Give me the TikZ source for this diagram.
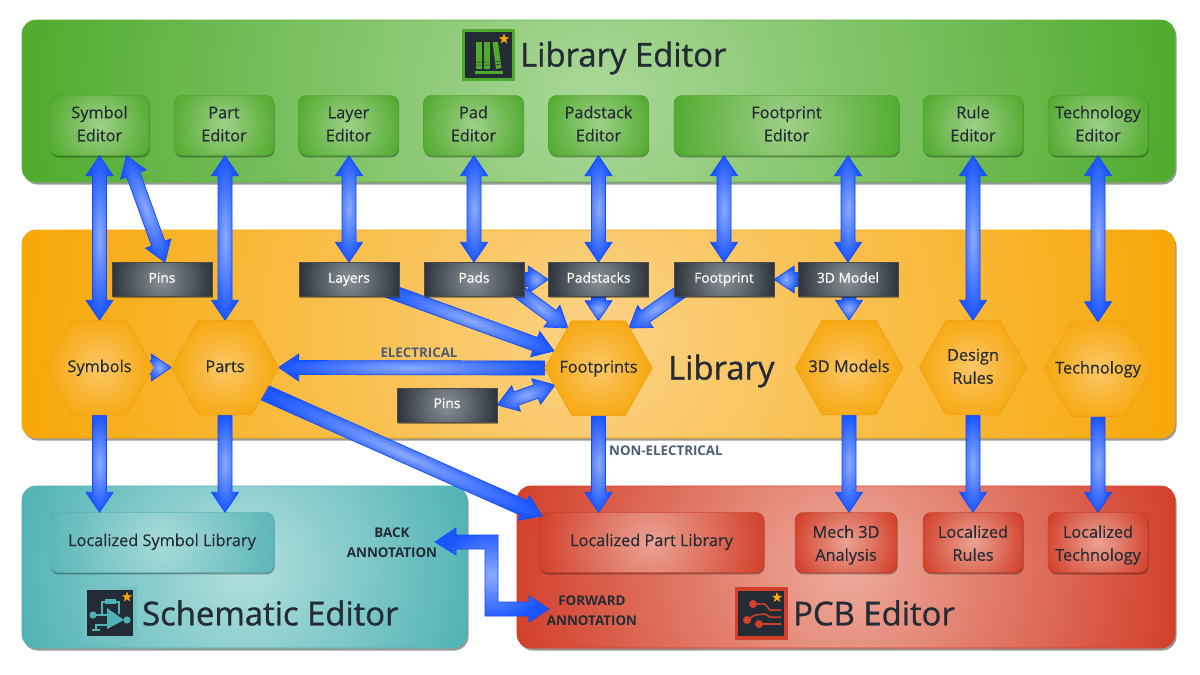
\documentclass[tikz,border=0pt]{standalone}
\usepackage{fontspec}
\setmainfont{Open Sans}
\newfontfamily\headfont[FakeBold=1.0]{Open Sans}
\newfontfamily\labfont[FakeBold=0.3]{Open Sans}
\usetikzlibrary{calc,shadows,shapes.geometric}
\definecolor{ink}{HTML}{232B35}
\definecolor{muted}{HTML}{4A5D75}
\definecolor{arrowline}{HTML}{0F4BFF}
\definecolor{rin}{HTML}{FFFFFF}
\definecolor{rout}{HTML}{000000}
\pgfdeclareradialshading[rin,rout]{glow}{\pgfpoint{0bp}{0bp}}{color(0bp)=(rin); color(25bp)=(rout); color(50bp)=(rout)}
\pgfdeclarelayer{panel}
\pgfdeclarelayer{arrows}
\pgfsetlayers{panel,arrows,main}
\makeatletter
\pgfdeclareshape{hexa}{%
  \inheritsavedanchors[from=rectangle]
  \inheritanchorborder[from=rectangle]
  \inheritanchor[from=rectangle]{center}
  \inheritanchor[from=rectangle]{north}
  \inheritanchor[from=rectangle]{south}
  \inheritanchor[from=rectangle]{east}
  \inheritanchor[from=rectangle]{west}
  \backgroundpath{%
    \southwest \pgf@xa=\pgf@x \pgf@ya=\pgf@y
    \northeast \pgf@xb=\pgf@x \pgf@yb=\pgf@y
    \pgf@xc=\pgf@xb \advance\pgf@xc by -\pgf@xa \pgf@xc=0.25\pgf@xc
    \pgfutil@tempdima=0.5\pgf@ya \advance\pgfutil@tempdima by 0.5\pgf@yb
    \pgfpathmoveto{\pgfqpoint{\pgf@xa}{\pgfutil@tempdima}}
    \pgfpathlineto{\pgfpoint{\pgf@xa+\pgf@xc}{\pgf@yb}}
    \pgfpathlineto{\pgfpoint{\pgf@xb-\pgf@xc}{\pgf@yb}}
    \pgfpathlineto{\pgfqpoint{\pgf@xb}{\pgfutil@tempdima}}
    \pgfpathlineto{\pgfpoint{\pgf@xb-\pgf@xc}{\pgf@ya}}
    \pgfpathlineto{\pgfpoint{\pgf@xa+\pgf@xc}{\pgf@ya}}
    \pgfpathclose
  }
}
\makeatother
\def\shaftw{7}
\def\headw{13.5}
\def\headl{20}
\def\firstrule{\strut}
\newcommand{\blockends}[2]{%
  \path let \p1=(#1),\p2=(#2) in \pgfextra{%
    \pgfmathsetmacro\tmpl{veclen(\x2-\x1,\y2-\y1)}%
    \pgfmathsetmacro\tmpa{atan2(\y2-\y1,\x2-\x1)}%
    \xdef\bal{\tmpl}\xdef\baa{\tmpa}\xdef\bax{\x1}\xdef\bay{\y1}};%
  \pgfmathsetmacro\bam{\bal-\headl}%
}
\newcommand{\dblblock}[2]{%
  \blockends{#1}{#2}%
  \colorlet{rin}{arrowin}\colorlet{rout}{arrowout}%
  \path[blockpaint,transform canvas={shift={(\bax,\bay)},rotate=\baa}]
    (0,0) -- (\headl,\headw) -- (\headl,\shaftw) -- (\bam,\shaftw) -- (\bam,\headw) -- (\bal,0)
    -- (\bam,-\headw) -- (\bam,-\shaftw) -- (\headl,-\shaftw) -- (\headl,-\headw) -- cycle;%
}
\newcommand{\sglblock}[2]{%
  \blockends{#1}{#2}%
  \colorlet{rin}{arrowin}\colorlet{rout}{arrowout}%
  \path[blockpaint,transform canvas={shift={(\bax,\bay)},rotate=\baa}]
    (0,\shaftw) -- (\bam,\shaftw) -- (\bam,\headw) -- (\bal,0)
    -- (\bam,-\headw) -- (\bam,-\shaftw) -- (0,-\shaftw) -- cycle;%
}
\definecolor{arrowin}{HTML}{8CABFF}
\definecolor{arrowout}{HTML}{1A55FF}
\tikzset{
  x=1pt,y=-1pt,
  blockpaint/.style={draw=arrowline,line width=.7pt,shade,shading=glow},
  dbl/.style={to path={\pgfextra{\dblblock{\tikztostart}{\tikztotarget}}}},
  sgl/.style={to path={\pgfextra{\sglblock{\tikztostart}{\tikztotarget}}}},
  widearrow/.code={\def\shaftw{8}},
  textlow/.code={\def\firstrule{\rule{0pt}{#1pt}}},
  textsingle/.code={\def\firstrule{\rule[-10.8pt]{0pt}{28.8pt}}},
  glowbox/.style n args={3}{fill=#2,path picture={%
     \colorlet{rin}{#1}\colorlet{rout}{#2}%
     \shade[shading=glow] (path picture bounding box.center) circle (#3pt);}},
  panelbox/.style={rectangle,rounded corners=14pt,inner sep=0pt,
     drop shadow={shadow xshift=1.5pt,shadow yshift=-2.5pt,opacity=.4,fill=black}},
  subbox/.style={rectangle,rounded corners=8pt,inner sep=0pt,align=center,text=ink,
     font=\labfont\fontsize{16.3}{23}\selectfont,
     drop shadow={shadow xshift=.6pt,shadow yshift=-1.8pt,opacity=.35,fill=black}},
  greenbox/.style={subbox,textlow=15.4,minimum height=60pt,draw=grnedge,line width=.4pt,glowbox={grnboxin}{grnboxout}{55}},
  tealbox/.style={subbox,textsingle,minimum height=60pt,draw=tealedge,line width=.4pt,glowbox={tealboxin}{tealboxout}{120}},
  redbox/.style={subbox,textlow=20.4,minimum height=60pt,draw=rededge,line width=.4pt,glowbox={redboxin}{redboxout}{#1}},
  redbox/.default=60,
  darkbox/.style={rectangle,minimum width=100pt,minimum height=34pt,inner sep=0pt,text=white,
     font=\labfont\fontsize{13.8}{16}\selectfont,execute at begin node=\strut,draw=black!70,line width=.4pt,glowbox={darkin}{darkout}{58},
     drop shadow={shadow xshift=.8pt,shadow yshift=-1.5pt,opacity=.35,fill=black}},
  hexbox/.style={hexa,minimum width=107pt,minimum height=94pt,inner sep=0pt,align=center,text=ink,
     font=\labfont\fontsize{16.3}{23}\selectfont,draw=hexedge,line width=.5pt,glowbox={hexin}{hexout}{56}},
  bigtitle/.style={text=ink,inner sep=0pt,font=\headfont\fontsize{32.8}{36}\selectfont},
  taglabel/.style={text=ink,inner sep=0pt,align=center,font=\bfseries\fontsize{13.4}{20}\selectfont},
  mutedlabel/.style={text=muted,inner sep=0pt,font=\bfseries\fontsize{13.3}{15}\selectfont},
  iconstar/.style={star,star points=5,star point ratio=2.5,fill=staror,inner sep=0pt,minimum size=11pt},
}
\definecolor{grnin}{HTML}{AAD898}\definecolor{grnout}{HTML}{4EAA2C}
\definecolor{ornin}{HTML}{FBD285}\definecolor{ornout}{HTML}{F7A707}
\definecolor{tealin}{HTML}{B2DFDE}\definecolor{tealout}{HTML}{50B2B4}
\definecolor{redin}{HTML}{EDAA9C}\definecolor{redout}{HTML}{D23F2A}
\definecolor{grnboxin}{HTML}{9FD089}\definecolor{grnboxout}{HTML}{52AB2F}
\definecolor{tealboxin}{HTML}{A8DBDA}\definecolor{tealboxout}{HTML}{58B4B6}
\definecolor{redboxin}{HTML}{EBA294}\definecolor{redboxout}{HTML}{D2412B}
\definecolor{grnedge}{HTML}{4A9E2A}\definecolor{tealedge}{HTML}{4FA9AB}\definecolor{rededge}{HTML}{C23A26}
\definecolor{darkin}{HTML}{8A9096}\definecolor{darkout}{HTML}{20272F}
\definecolor{hexin}{HTML}{FBC768}\definecolor{hexout}{HTML}{F6A60A}\definecolor{hexedge}{HTML}{EDA00C}
\definecolor{staror}{HTML}{F7A707}
\begin{document}
\begin{tikzpicture}
\useasboundingbox (0,0) rectangle (1200,675);
\begin{pgfonlayer}{panel}
\fill[white] (0,0) rectangle (1200,675);
\node[panelbox,minimum width=1153pt,minimum height=162pt,draw=grnout!90!white,line width=.6pt,glowbox={grnin}{grnout}{590}] (pgreen) at (598.5,101) {};
\node[panelbox,minimum width=1153pt,minimum height=208pt,draw=ornout,line width=.6pt,glowbox={ornin}{ornout}{590}] (porange) at (598.5,334) {};
\node[panelbox,minimum width=445pt,minimum height=162pt,draw=tealout,line width=.6pt,glowbox={tealin}{tealout}{235}] (pteal) at (244.5,567) {};
\node[panelbox,minimum width=658pt,minimum height=162pt,draw=redout,line width=.6pt,glowbox={redin}{redout}{340}] (pred) at (846,567) {};
% editors
\node[greenbox,minimum width=99pt] (edsym) at (99.5,125.5) {\firstrule Symbol\\\strut Editor};
\node[greenbox,minimum width=100pt] (edpart) at (224,125.5) {\firstrule Part\\\strut Editor};
\node[greenbox,minimum width=100pt] (edlayer) at (348.5,125.5) {\firstrule Layer\\\strut Editor};
\node[greenbox,minimum width=100pt] (edpad) at (473.5,125.5) {\firstrule Pad\\\strut Editor};
\node[greenbox,minimum width=100pt] (edstack) at (598.5,125.5) {\firstrule Padstack\\\strut Editor};
\node[subbox,textlow=15.4,minimum height=60pt,minimum width=225pt,draw=grnedge,line width=.4pt,glowbox={grnboxin}{grnboxout}{115}] (edfoot) at (786.5,125.5) {\firstrule Footprint\\\strut Editor};
\node[greenbox,minimum width=100pt] (edrule) at (973,125.5) {\firstrule Rule\\\strut Editor};
\node[greenbox,minimum width=100pt] (edtech) at (1098,125.5) {\firstrule Technology\\\strut Editor};
% localized
\node[tealbox,minimum width=224pt] (locsym) at (162,542.5) {\firstrule Localized Symbol Library};
\node[redbox=115,textsingle,minimum width=225pt] (locpart) at (651.5,542.5) {\firstrule Localized Part Library};
\node[redbox=55,minimum width=102pt] (locmech) at (846,542.5) {\firstrule Mech 3D\\\strut Analysis};
\node[redbox=55,minimum width=100pt] (locrule) at (973,542.5) {\firstrule Localized\\\strut Rules};
\node[redbox=55,minimum width=100pt] (loctech) at (1098,542.5) {\firstrule Localized\\\strut Technology};
\end{pgfonlayer}
% data blocks
\node[darkbox] (bpins) at (162,279.5) {Pins};
\node[darkbox] (blayers) at (349,279.5) {Layers};
\node[darkbox] (bpads) at (474,279.5) {Pads};
\node[darkbox] (bstacks) at (598.5,279.5) {Padstacks};
\node[darkbox] (bfoot) at (724,279.5) {Footprint};
\node[darkbox] (bmodel) at (848,279.5) {3D Model};
\node[darkbox] (bfpins) at (447,405) {Pins};
% hexagons
\node[hexbox] (hsym) at (99.5,367.5) {\firstrule Symbols};
\node[hexbox] (hpart) at (225,367.5) {\firstrule Parts};
\node[hexbox] (hfoot) at (598.5,368) {\firstrule Footprints};
\node[hexbox] (hmodel) at (849,367.5) {\firstrule 3D Models};
\node[hexbox,textlow=16.4] (hrule) at (973,367.5) {\firstrule Design\\\strut Rules};
\node[hexbox] (htech) at (1098,369) {\firstrule Technology};
% connectors
\begin{pgfonlayer}{arrows}
\draw[dbl] (edsym.south -| hsym.north) to (hsym.north);
\draw[dbl] ([shift={(27,0)}]edsym.south) to ([shift={(3,0)}]bpins.north);
\draw[dbl] (edpart.south -| hpart.north) to (hpart.north);
\draw[dbl] (edlayer.south -| blayers.north) to (blayers.north);
\draw[dbl] (edpad.south -| bpads.north) to (bpads.north);
\draw[dbl] (edstack.south) to (bstacks.north);
\draw[dbl] (edfoot.south -| bfoot.north) to (bfoot.north);
\draw[dbl] (edfoot.south -| bmodel.north) to (bmodel.north);
\draw[dbl] (edrule.south) to (hrule.north);
\draw[dbl] (edtech.south) to (htech.north);
\draw[sgl] (bpads.east) to (bstacks.west);
\draw[sgl] (bmodel.west) to (bfoot.east);
\draw[sgl] (bmodel.south -| hmodel.north) to (hmodel.north);
\draw[sgl] (bstacks.south) to (hfoot.north);
\draw[sgl] ([shift={(36,10)}]blayers.center) to ([shift={(-44.5,-17)}]hfoot.center);
\draw[sgl] ([shift={(39,8)}]bpads.center) to ([shift={(-30.5,-40)}]hfoot.center);
\draw[sgl] ([shift={(-40,10)}]bfoot.center) to ([shift={(30.5,-40)}]hfoot.center);
\draw[sgl] (hfoot.west) to (hpart.east);
\draw[dbl] (bfpins.east) to ([shift={(-43.5,17)}]hfoot.center);
\draw[sgl] ([shift={(48,0)}]hsym.center) to (hpart.west);
\draw[sgl,widearrow] ([shift={(37,24)}]hpart.center) to ([shift={(-109.5,-26.5)}]locpart.center);
\draw[sgl] (hsym.south) to (hsym.south |- locsym.north);
\draw[sgl] (hpart.south) to (hpart.south |- locsym.north);
\draw[sgl] (hfoot.south) to (hfoot.south |- locpart.north);
\draw[sgl] (hmodel.south) to (hmodel.south |- locmech.north);
\draw[sgl] (hrule.south) to (locrule.north);
\draw[sgl] (htech.south) to (loctech.north);
\coordinate (backtip) at (435,542);
\coordinate (fwdtip) at (549,609);
\colorlet{rin}{arrowin}\colorlet{rout}{arrowout}
\path[blockpaint] (backtip) -- ++(21,-14) -- ++(0,7) -- ++(42,0) -- ++(0,67) -- ++(31,0) -- ++(0,-6)
  -- (fwdtip) -- ++(-20,13) -- ++(0,-6) -- ++(-44,0) -- ++(0,-67) -- ++(-29,0) -- ++(0,6) -- cycle;
\end{pgfonlayer}
% labels
\node[bigtitle,anchor=west] (tlib) at (520,58) {Library Editor};
\node[bigtitle,anchor=west] (tcore) at (668,371) {Library};
\node[bigtitle,anchor=west] (tsch) at (142,613) {Schematic Editor};
\node[bigtitle,anchor=west] (tpcb) at (793,613) {PCB Editor};
\node[mutedlabel] (lelec) at (419,353) {ELECTRICAL};
\node[mutedlabel,anchor=west] (lnon) at (609,451) {NON-ELECTRICAL};
\node[taglabel] (lback) at (392,543) {BACK\\ANNOTATION};
\node[taglabel] (lfwd) at (592,611) {FORWARD\\ANNOTATION};
% library icon
\fill[grnout] (462,29) rectangle (515,81);
\fill[ink] (465,32) rectangle (512,78);
\fill[grnboxout] (476,42) rectangle (481.5,69);
\fill[grnboxout] (484,42) rectangle (489.5,69);
\fill[grnboxout] (492.5,42) -- (498,42) -- (501.5,68) -- (496,69) -- cycle;
\fill[grnboxout] (475,71) rectangle (503,73.5);
\draw[ink,line width=.5pt] (476,62) -- (481.5,62) (476,65) -- (481.5,65) (484,62) -- (489.5,62) (484,65) -- (489.5,65) (495,62) -- (500.5,61) (495.5,65) -- (501,64);
\node[iconstar] (starlib) at (504,39) {};
% schematic icon
\fill[tealout!80!white] (84,587) rectangle (137,639);
\fill[ink] (87,590) rectangle (133,636);
\fill[tealout] (93,615) circle (3.6);
\fill[tealout] (127,620) circle (3.6);
\fill[tealout] (107,608) -- (124,620) -- (107,629) -- cycle;
\draw[tealout,line width=1.5pt] (93,615) -- (107,615) (124,620) -- (127,620);
\draw[tealout,line width=1.5pt] (102,615) -- (102,602) -- (119,602) -- (119,614);
\fill[tealout] (105,599) rectangle (116,604);
\draw[tealout,line width=1.5pt] (107,625) -- (96,625) -- (96,630) (92,630) -- (100,630);
\node[iconstar] (starsch) at (127,597) {};
% pcb icon
\fill[redout] (735,587) rectangle (788,640);
\fill[ink] (738,591) rectangle (784,636);
\draw[redout,line width=1.5pt] (753,604) -- (765,604) -- (770,610) -- (781,610);
\draw[redout,line width=1.5pt] (747,620) -- (755,615) -- (765,614) -- (770,617) -- (781,617);
\draw[redout,line width=1.5pt] (759,624) -- (781,624);
\fill[redout] (753,604) circle (4);
\fill[redout] (747,620) circle (4);
\fill[redout] (759,624) circle (4);
\node[iconstar] (starpcb) at (777,597.5) {};
\end{tikzpicture}
\end{document}
